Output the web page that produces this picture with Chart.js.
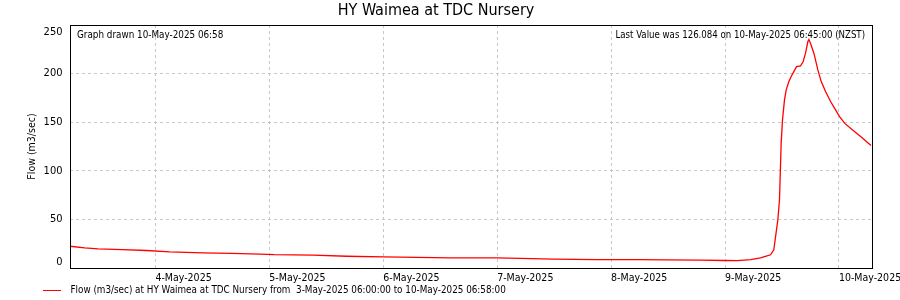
<!DOCTYPE html>
<html>
<head>
<meta charset="utf-8">
<title>HY Waimea at TDC Nursery</title>
<script src="https://cdn.jsdelivr.net/npm/chart.js@4.4.1/dist/chart.umd.min.js"></script>
<style>
  html, body { margin: 0; padding: 0; background: #fff; }
</style>
</head>
<body>
<canvas id="flowChart" width="900" height="300"></canvas>
<script>
// hours since 3-May-2025 06:00 (NZST)
const hours = [
    0, 3.1, 5.9, 11, 16.1, 21, 28, 34, 40, 43,
    51.2, 58.3, 66, 73, 80.1, 90, 94.8, 102, 110.9, 120,
    126, 132.8, 138, 140.6, 143.4, 145.5, 146.5, 147.6, 148.28, 149.13,
    149.48, 149.83, 150.11, 150.53, 150.89, 151.45, 151.94, 152.5, 153.07, 153.91,
    154.47, 154.96, 155.46, 155.67, 156.02, 156.72, 157.56, 158.27, 159.18, 160.24,
    161.29, 162.13, 163.19, 164.81, 166.57, 168.75
];

// Flow (m3/sec)
const flow = [
    22.4, 20.7, 19.7, 18.9, 18.0, 16.6, 15.6, 15.0, 14.3, 13.7,
    13.2, 12.1, 11.4, 10.9, 10.5, 10.4, 9.8, 9.2, 8.7, 8.6,
    8.3, 8.0, 7.7, 7.6, 8.7, 10.5, 12.0, 13.6, 18.8, 49.6,
    70.2, 128.5, 152.4, 173.0, 183.3, 191.8, 197.0, 202.0, 207.2, 208.0,
    212.4, 221.0, 233.0, 235.0, 231.0, 221.0, 203.8, 191.8, 181.5, 171.3,
    162.7, 155.8, 149.0, 142.2, 135.3, 126.08
];

const yTicks = [0, 50, 100, 150, 200, 250];

// midnights, in hours since the start
const dayTicks = [18, 42, 66, 90, 114, 138, 162];
const dayLabels = [
    '4-May-2025',
    '5-May-2025',
    '6-May-2025',
    '7-May-2025',
    '8-May-2025',
    '9-May-2025',
    '10-May-2025'
];

const endHour = 168 + 58 / 60; // 10-May-2025 06:58

const titleText = 'HY Waimea at TDC Nursery';
const graphDrawn = 'Graph drawn 10-May-2025 06:58';
const lastValue = 'Last Value was 126.084 on 10-May-2025 06:45:00 (NZST)';
const seriesLabel = 'Flow (m3/sec) at HY Waimea at TDC Nursery from  3-May-2025 06:00:00 to 10-May-2025 06:58:00';

const FONT = '"DejaVu Sans Condensed", "Liberation Sans", sans-serif';
const gridGrey = '#c8c8c8';

Chart.defaults.color = '#000';
Chart.defaults.font.family = FONT;

// frame, corner notes, y labels and the legend line
const annotate = {
    id: 'annotate',
    afterDraw(chart) {
        const ctx = chart.ctx;
        const a = chart.chartArea;
        const y = chart.scales.y;
        ctx.save();

        ctx.strokeStyle = '#000';
        ctx.lineWidth = 1;
        ctx.strokeRect(Math.round(a.left) + 0.5, Math.round(a.top) + 0.5,
            Math.round(a.right - a.left), Math.round(a.bottom - a.top));

        ctx.fillStyle = '#000';
        ctx.textBaseline = 'middle';
        ctx.textAlign = 'left';
        ctx.font = '9.8px ' + FONT;
        ctx.fillText(graphDrawn, a.left + 7, a.top + 10);
        ctx.textAlign = 'right';
        ctx.font = '9.6px ' + FONT;
        ctx.fillText(lastValue, a.right - 7, a.top + 10);

        ctx.font = '11px ' + FONT;
        yTicks.forEach(v => {
            let py = y.getPixelForValue(v);
            py = Math.min(Math.max(py, a.top + 7), a.bottom - 6);
            ctx.fillText(String(v), a.left - 7.5, py);
        });

        // legend
        const ds = chart.data.datasets[0];
        ctx.strokeStyle = ds.borderColor;
        ctx.beginPath();
        ctx.moveTo(43, 290.5);
        ctx.lineTo(61, 290.5);
        ctx.stroke();
        ctx.font = '9.8px ' + FONT;
        ctx.textAlign = 'left';
        ctx.fillText(ds.label, 70.5, 290);

        ctx.restore();
    }
};

new Chart(document.getElementById('flowChart'), {
    type: 'line',
    data: {
        datasets: [
            {
                label: seriesLabel,
                data: hours.map((h, i) => ({x: h, y: flow[i]})),
                borderColor: '#ff0000',
                backgroundColor: '#ff0000',
                borderWidth: 1.3,
                pointRadius: 0,
                tension: 0
            }
        ]
    },
    options: {
        responsive: false,
        devicePixelRatio: 1,
        animation: false,
        layout: {
            padding: {left: 0, right: 28, top: 0, bottom: 0}
        },
        scales: {
            x: {
                type: 'linear',
                min: 0,
                max: endHour,
                afterBuildTicks: axis => {
                    axis.ticks = dayTicks.map(v => ({value: v}));
                },
                afterFit: scale => {
                    scale.height = 32;
                    scale.paddingLeft = 0;
                    scale.paddingRight = 0;
                },
                ticks: {
                    callback: value => dayLabels[dayTicks.indexOf(value)],
                    align: 'start',
                    padding: 4,
                    maxRotation: 0,
                    autoSkip: false,
                    font: {size: 10.5}
                },
                grid: {
                    color: gridGrey,
                    drawTicks: false
                },
                border: {
                    display: false,
                    dash: [3, 3]
                }
            },
            y: {
                min: 0,
                max: 250,
                afterBuildTicks: axis => {
                    axis.ticks = yTicks.map(v => ({value: v}));
                },
                afterFit: scale => {
                    scale.width = 70;
                    scale.paddingTop = 0;
                    scale.paddingBottom = 0;
                },
                ticks: {
                    display: false
                },
                grid: {
                    color: gridGrey,
                    drawTicks: false
                },
                border: {
                    display: false,
                    dash: [3, 3]
                },
                title: {
                    display: true,
                    text: 'Flow (m3/sec)',
                    font: {size: 10.5},
                    padding: {top: 25.7, bottom: 0}
                }
            }
        },
        plugins: {
            legend: {display: false},
            tooltip: {enabled: false},
            title: {
                display: true,
                text: titleText,
                font: {size: 16, weight: 'normal'},
                padding: {top: 1, bottom: 4.8}
            }
        }
    },
    plugins: [annotate]
});
</script>
</body>
</html>
